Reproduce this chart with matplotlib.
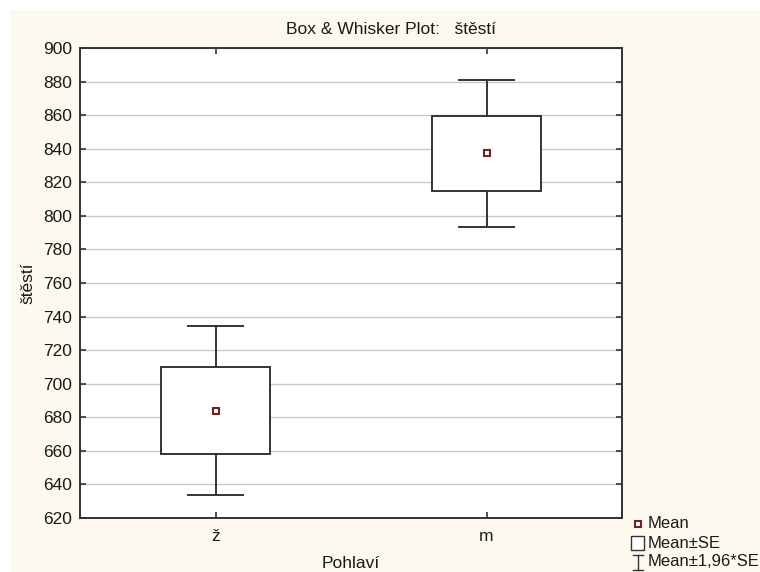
import matplotlib
matplotlib.use("Agg")
import matplotlib.pyplot as plt
from matplotlib.patches import Rectangle
from matplotlib.lines import Line2D
import numpy as np

plt.rcParams['font.family'] = ['Liberation Sans Narrow', 'Liberation Sans', 'DejaVu Sans']

categories = ["ž", "m"]
means = [684.0, 837.3]
se = [25.7, 22.3]
ci_factor = 1.96
y_ticks = [620, 640, 660, 680, 700, 720, 740, 760, 780, 800, 820, 840, 860, 880, 900]

W, H = 760, 572
fig = plt.figure(figsize=(W / 100, H / 100), dpi=100)
fig.patch.set_facecolor("white")
cream = "#fef9ee"
fig.patches.append(Rectangle((10 / W, 0), 1 - 10 / W, 1 - 10 / H, transform=fig.transFigure,
                             facecolor=cream, edgecolor="none", zorder=-10))

ax = fig.add_axes([80 / W, 1 - 518 / H, (622 - 80) / W, (518 - 48) / H])
ax.set_facecolor("white")

line_col = "#333333"
txt_col = "#1a1a1a"
x = np.arange(len(categories))
box_w = 0.4
cap_w = 0.2
for xi, m, s in zip(x, means, se):
    lo, hi = m - s, m + s
    wlo, whi = m - ci_factor * s, m + ci_factor * s
    ax.add_patch(Rectangle((xi - box_w / 2, lo), box_w, hi - lo, facecolor="white",
                           edgecolor=line_col, lw=1.4, zorder=3))
    ax.plot([xi, xi], [hi, whi], color=line_col, lw=1.4, zorder=3)
    ax.plot([xi, xi], [wlo, lo], color=line_col, lw=1.4, zorder=3)
    ax.plot([xi - cap_w / 2, xi + cap_w / 2], [whi, whi], color=line_col, lw=1.4, zorder=3)
    ax.plot([xi - cap_w / 2, xi + cap_w / 2], [wlo, wlo], color=line_col, lw=1.4, zorder=3)
    ax.plot([xi], [m], marker="s", ms=5, mfc="white", mec="#6e2424", mew=1.5, zorder=4)

ax.set_xlim(-0.5, 1.5)
ax.set_ylim(620, 900)
ax.set_xticks(x)
ax.set_xticklabels(categories)
ax.set_yticks(y_ticks)
ax.grid(axis="y", color="#c8c8c8", lw=1.0, zorder=0)
ax.set_axisbelow(True)
for sp in ax.spines.values():
    sp.set_color(line_col)
    sp.set_linewidth(1.4)
ax.tick_params(axis="both", direction="in", length=4, width=1.2, color=line_col,
               labelsize=12.5, labelcolor=txt_col, top=True, right=True)
ax.tick_params(axis="x", pad=8)
ax.tick_params(axis="y", pad=6)

ax.set_ylabel("štěstí", fontsize=12.5, color=txt_col)
ax.yaxis.set_label_coords(-0.083, 0.5)
fig.text(351 / W, 1 - 563 / H, "Pohlaví", ha="center", va="center", fontsize=12.5, color=txt_col)
fig.text(391 / W, 1 - 30 / H, "Box & Whisker Plot:   štěstí", ha="center", va="center",
         fontsize=12.5, color=txt_col)

# legend (manual)
lx = 638
fig.lines.append(Line2D([lx / W], [1 - 524 / H], marker="s", ms=5, mfc="white", mec="#6e2424",
                        mew=1.5, transform=fig.transFigure))
fig.patches.append(Rectangle(((lx - 7) / W, 1 - 550 / H), 13 / W, 14 / H, transform=fig.transFigure,
                             facecolor="white", edgecolor=line_col, lw=1.0))
ix = lx
fig.lines.append(Line2D([ix / W, ix / W], [1 - 570 / H, 1 - 555 / H], color=line_col, lw=1.0,
                        transform=fig.transFigure))
fig.lines.append(Line2D([(ix - 5) / W, (ix + 5) / W], [1 - 555 / H, 1 - 555 / H], color=line_col, lw=1.0,
                        transform=fig.transFigure))
fig.lines.append(Line2D([(ix - 5) / W, (ix + 5) / W], [1 - 570 / H, 1 - 570 / H], color=line_col, lw=1.0,
                        transform=fig.transFigure))
for ty, txt in [(524, "Mean"), (543, "Mean±SE"), (562, "Mean±1,96*SE")]:
    fig.text(648 / W, 1 - ty / H, txt, ha="left", va="center", fontsize=12, color=txt_col)

fig.savefig("out.png", dpi=100)
